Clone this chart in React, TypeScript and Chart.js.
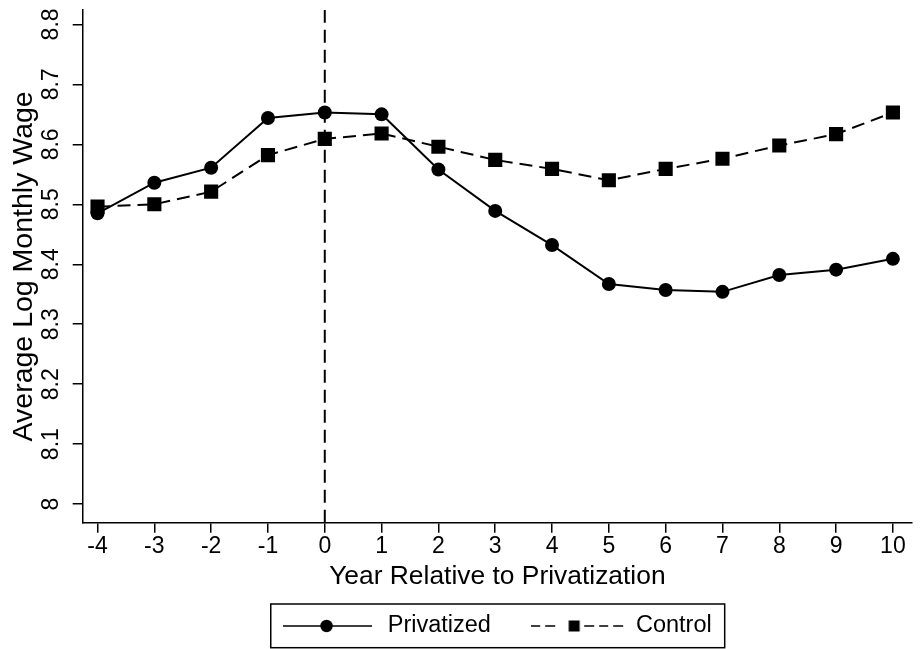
import React, { useEffect, useRef } from "react";
import { Chart, registerables } from "chart.js";

Chart.register(...registerables);

// ---- data ----
const years = [-4, -3, -2, -1, 0, 1, 2, 3, 4, 5, 6, 7, 8, 9, 10];
const privatized = [8.485, 8.536, 8.561, 8.644, 8.653, 8.650, 8.558, 8.489, 8.432, 8.367, 8.357, 8.354, 8.382, 8.391, 8.409];
const control = [8.496, 8.500, 8.521, 8.582, 8.609, 8.618, 8.596, 8.574, 8.559, 8.540, 8.559, 8.576, 8.598, 8.617, 8.653];
const seriesNames = ["Privatized", "Control"];
const xTickValues = [-4, -3, -2, -1, 0, 1, 2, 3, 4, 5, 6, 7, 8, 9, 10];
const xTickLabels = ["-4", "-3", "-2", "-1", "0", "1", "2", "3", "4", "5", "6", "7", "8", "9", "10"];
const yTickValues = [8, 8.1, 8.2, 8.3, 8.4, 8.5, 8.6, 8.7, 8.8];
const yTickLabels = ["8", "8.1", "8.2", "8.3", "8.4", "8.5", "8.6", "8.7", "8.8"];
const eventYear = [0];
const xTitle = "Year Relative to Privatization";
const yTitle = "Average Log Monthly Wage";

// axis bounds
const X_MIN = -4.261;
const X_MAX = 10.336;
const Y_MIN = 7.969;
const Y_MAX = 8.824;

const FONT = "'Liberation Sans', Arial, Helvetica, sans-serif";
const LEG_W = 93;
const LEG_FONT = 23.5;

function makeSymbol(kind: "circle" | "square"): HTMLCanvasElement {
  const H = 16;
  const c = document.createElement("canvas");
  c.width = LEG_W;
  c.height = H;
  const g = c.getContext("2d")!;
  g.strokeStyle = "#000";
  g.fillStyle = "#000";
  g.lineWidth = 1.5;
  const cy = H / 2;
  if (kind === "circle") {
    g.beginPath();
    g.moveTo(0, cy);
    g.lineTo(89, cy);
    g.stroke();
    g.beginPath();
    g.arc(43.5, cy, 6.2, 0, Math.PI * 2);
    g.fill();
  } else {
    const segs = [[0, 9], [14, 24], [53, 63], [68, 77], [82, 92]];
    segs.forEach(([a, b]) => {
      g.beginPath();
      g.moveTo(a, cy);
      g.lineTo(b, cy);
      g.stroke();
    });
    g.fillRect(43 - 5.5, cy - 5.5, 11, 11);
  }
  return c;
}

const legendBorder = {
  id: "legendBorder",
  afterDraw(chart: any) {
    const lg = chart.legend;
    const hb = lg && lg.legendHitBoxes;
    if (!hb || hb.length < 2) return;
    const ctx = chart.ctx;
    const text1 = hb[0].left + LEG_W + LEG_FONT / 2;
    const left = text1 - 117;
    const right = hb[1].left + hb[1].width + 13;
    const cy = hb[0].top + hb[0].height / 2;
    ctx.save();
    ctx.strokeStyle = "#000";
    ctx.lineWidth = 1.5;
    ctx.strokeRect(left, cy - 22, right - left, 43.7);
    ctx.restore();
  },
};

export default function App() {
  const ref = useRef<HTMLCanvasElement | null>(null);

  useEffect(() => {
    document.body.style.margin = "0";
    if (!ref.current) return;
    const sym1 = makeSymbol("circle");
    const sym2 = makeSymbol("square");

    const chart = new Chart(ref.current, {
      type: "line",
      data: {
        datasets: [
          {
            label: seriesNames[0],
            data: years.map((x, i) => ({ x, y: privatized[i] })),
            borderColor: "#000",
            backgroundColor: "#000",
            borderWidth: 2,
            pointStyle: "circle",
            pointRadius: 7,
            pointBorderWidth: 0,
            pointBackgroundColor: "#000",
            tension: 0,
            order: 1,
          },
          {
            label: seriesNames[1],
            data: years.map((x, i) => ({ x, y: control[i] })),
            borderColor: "#000",
            backgroundColor: "#000",
            borderWidth: 2,
            borderDash: [13, 7],
            pointStyle: "rect",
            pointRadius: 10,
            pointBorderWidth: 0,
            pointBackgroundColor: "#000",
            tension: 0,
            order: 2,
          },
          {
            label: "event",
            data: [
              { x: eventYear[0], y: Y_MIN },
              { x: eventYear[0], y: Y_MAX },
            ],
            borderColor: "#000",
            borderWidth: 2,
            borderDash: [13, 7],
            pointRadius: 0,
            order: 3,
          },
        ],
      },
      options: {
        animation: false,
        responsive: false,
        devicePixelRatio: 1,
        layout: { padding: { top: 8, left: 0, right: 0, bottom: 1.25 } },
        scales: {
          x: {
            type: "linear",
            min: X_MIN,
            max: X_MAX,
            afterBuildTicks: (s: any) => {
              s.ticks = xTickValues.map((v) => ({ value: v }));
            },
            afterFit: (s: any) => {
              s.height = 51.3;
              s.paddingLeft = 0;
              s.paddingRight = 0;
            },
            grid: { display: true, drawOnChartArea: false, drawTicks: true, tickLength: 10, color: "#000", lineWidth: 1.5 },
            border: { display: true, color: "#000", width: 1.5 },
            ticks: {
              autoSkip: false,
              maxRotation: 0,
              minRotation: 0,
              padding: 0,
              color: "#000",
              font: { family: FONT, size: 23 },
              callback: (_v: any, i: number) => xTickLabels[i],
            },
            title: {
              display: true,
              text: xTitle,
              color: "#000",
              font: { family: FONT, size: 26.4 },
              padding: { top: 0, bottom: -18.3 },
            },
          },
          y: {
            type: "linear",
            min: Y_MIN,
            max: Y_MAX,
            afterBuildTicks: (s: any) => {
              s.ticks = yTickValues.map((v) => ({ value: v }));
            },
            afterFit: (s: any) => {
              s.width = 82.7;
              s.paddingTop = 0;
              s.paddingBottom = 0;
            },
            grid: { display: true, drawOnChartArea: false, drawTicks: true, tickLength: 10, color: "#000", lineWidth: 1.5 },
            border: { display: true, color: "#000", width: 1.5 },
            ticks: {
              autoSkip: false,
              minRotation: 90,
              maxRotation: 90,
              crossAlign: "center",
              padding: 5,
              color: "#000",
              font: { family: FONT, size: 23 },
              callback: (_v: any, i: number) => yTickLabels[i],
            },
            title: {
              display: true,
              text: yTitle,
              color: "#000",
              font: { family: FONT, size: 28.5 },
              padding: { top: 7, bottom: 0 },
            },
          },
        },
        plugins: {
          tooltip: { enabled: false },
          legend: {
            display: true,
            position: "bottom",
            align: "center",
            fullSize: false,
            labels: {
              usePointStyle: true,
              pointStyleWidth: LEG_W,
              padding: 40.25,
              color: "#000",
              font: { family: FONT, size: LEG_FONT },
              generateLabels: () => [
                {
                  text: seriesNames[0],
                  pointStyle: sym1,
                  fillStyle: "#000",
                  strokeStyle: "#000",
                  lineWidth: 0,
                  hidden: false,
                  datasetIndex: 0,
                  fontColor: "#000",
                },
                {
                  text: seriesNames[1],
                  pointStyle: sym2,
                  fillStyle: "#000",
                  strokeStyle: "#000",
                  lineWidth: 0,
                  hidden: false,
                  datasetIndex: 1,
                  fontColor: "#000",
                },
              ],
            },
          },
        },
      } as any,
      plugins: [legendBorder],
    });
    return () => chart.destroy();
  }, []);

  return (
    <div style={{ width: 922, height: 649, background: "#fff" }}>
      <canvas ref={ref} width={922} height={649} style={{ display: "block" }} />
    </div>
  );
}
